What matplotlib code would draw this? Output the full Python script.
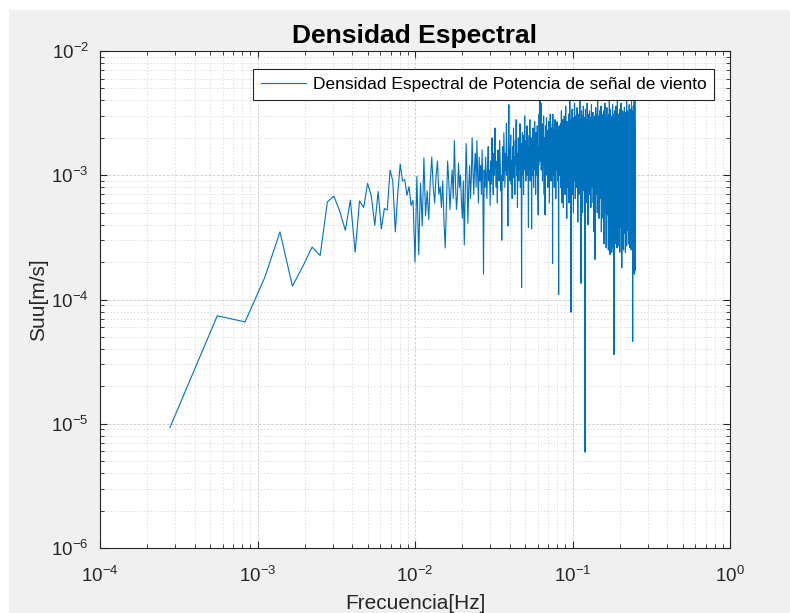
import matplotlib
matplotlib.use("Agg")
import matplotlib.pyplot as plt
import numpy as np
from matplotlib.patches import Rectangle
from matplotlib.ticker import LogLocator, NullFormatter

# wind record: 3600 s, frequency step 1/3600 Hz, up to Nyquist 0.25 Hz
DF = 1.0 / 3600.0

# Suu values in units of 1e-4, k = 1..900
suu_low = [0.093, 0.74, 0.66, 1.5, 3.5, 1.28, 1.86, 2.64, 2.26, 6.1,
           6.8, 5.1, 3.6, 6.3, 2.4, 6.2, 5.5, 8.6, 6.8, 3.95,
           7.4, 3.7, 5.4, 5.25, 11, 9.0, 3.5, 7.2, 12.3, 9.0,
           9.2, 6.9, 8.1, 5.7, 6.3, 2.0, 9.8, 2.3, 8.6, 3.9]

suu_mid = [13.8, 4.7, 7.5, 4.4, 9, 14, 8, 6.0, 10, 13,
           7, 8.1, 5.5, 9, 4.2, 2.6, 6, 13, 9, 5.3,
           8, 11, 6.5, 19, 9, 5.3, 7, 12.5, 8, 10,
           6, 4.5, 9, 2.75, 7, 18, 10, 4.1, 8, 12,
           6.5, 9.5, 20, 11, 7, 11.7, 15, 8, 19, 10,
           6, 14, 9, 12, 7, 16, 9, 1.6, 11, 8,
           14, 10, 6.5, 12, 17, 9, 11, 5.7, 13, 8.5,
           20, 11, 7, 15, 10, 24, 12, 8, 13, 6,
           16, 11, 9, 19, 14, 7.5, 10, 3.0, 12, 17,
           9, 22, 13, 8, 15, 11, 26, 10, 14, 3.9,
           18, 37, 12, 9, 16, 21, 8.5, 13, 6.5, 17,
           11, 24, 9.5, 14, 7, 19, 12, 28, 10, 15,
           5.5, 13, 20, 9, 17, 11, 26, 8, 14, 18,
           1.25, 12, 22, 10, 16, 7, 21, 13, 30, 11]

suu_band1 = [15, 9, 19, 12, 25, 10, 17, 13, 3.8, 14,
             21, 11, 28, 9, 16, 12, 20, 3.7, 13, 18,
             10, 24, 14, 8, 19, 12, 27, 11, 16, 7,
             22, 13, 18, 10, 25, 14, 9, 4.8, 17, 12,
             31, 15, 20, 42, 13, 24, 38, 11, 19, 14,
             26, 9, 17, 22, 12, 30, 15, 7, 20, 13,
             4.8, 18, 25, 11, 16, 29, 21, 10, 15, 23,
             8, 19, 13, 27, 11, 17, 6, 22, 14, 31,
             12, 18, 9, 24, 15, 20, 11, 26, 1.95, 31,
             14, 19, 10, 23, 16, 8, 21, 13, 28, 12,
             17, 6.5, 24, 15, 19, 11, 27, 14, 20, 9,
             23, 16, 12, 1.1, 18, 25, 13, 21, 10, 17]

suu_band2 = [11, 26, 8, 19, 14, 33, 9, 16, 6, 22, 13, 28, 10, 18, 5.5, 24, 15, 12, 30, 9,
             20, 14, 7, 25, 11, 36, 16, 9, 21, 13, 4.5, 18, 27, 10, 15, 23, 8, 19, 12, 31,
             14, 6, 22, 17, 10, 40, 13, 24, 9, 16, 28, 0.79, 19, 12, 26, 8, 15, 34, 11, 20,
             7, 23, 14, 18, 5, 29, 12, 21, 9, 16, 38, 11, 25, 13, 6.5, 19, 30, 10, 17, 22,
             8, 27, 14, 12, 35, 9, 20, 16, 4.2, 24, 13, 18, 31, 10, 22, 7, 15, 26, 12, 19,
             41, 11, 17, 23, 6, 28, 14, 1.35, 21, 12, 33, 16, 9, 25, 13, 19, 5, 30, 15, 22,
             10, 36, 14, 18, 7.5, 26, 12, 20, 16, 29, 11, 0.059, 23, 15, 34, 9, 19, 24, 13, 17,
             6, 28, 14, 21, 11, 38, 16, 8, 25, 13, 19, 4, 31, 12, 22, 15, 27, 9.5, 18, 24,
             11, 33, 14, 7, 20, 16, 29, 10, 23, 13, 5.5, 26, 17, 12, 37, 15, 21, 8, 19, 28,
             13, 24, 10, 18, 32, 14, 6, 22, 16, 27, 11, 20, 3.5, 25, 13, 19, 30, 9, 17, 2.1,
             23, 14, 28, 11, 18, 35, 12, 21, 7, 26, 15, 19, 10, 31, 13, 24, 5, 17, 22, 40,
             12, 20, 16, 8, 27, 14, 23, 11, 30, 17, 4.5, 21, 13, 25, 9, 33, 15, 19, 6.5, 24,
             12, 28, 16, 10, 22, 36, 13, 18, 3.5, 26, 14, 20, 9, 31, 15, 24, 11, 17, 29, 7]

suu_band3 = [21, 13, 4.5, 25, 16, 10, 33, 14, 19, 2.8, 23, 12, 28, 17, 8, 22, 15, 38, 11, 20,
             5, 26, 13, 18, 30, 9, 24, 15, 2.6, 21, 12, 27, 16, 6, 35, 14, 19, 11, 23, 4.8,
             17, 29, 13, 20, 8, 25, 15, 2.5, 22, 12, 31, 16, 5.5, 24, 14, 19, 40, 10, 27, 4.2,
             18, 13, 2.3, 23, 15, 34, 9, 20, 5, 26, 12, 17, 30, 4.4, 21, 14, 25, 11, 2.4, 19,
             28, 13, 16, 5.2, 24, 10, 37, 15, 2.6, 21, 12, 27, 18, 6, 23, 14, 4.6, 31, 11, 0.36,
             20, 15, 26, 2.5, 17, 12, 33, 9, 22, 14, 5, 28, 16, 19, 5.5, 25, 13, 2.8, 21, 36,
             11, 18, 4.3, 24, 15, 29, 8, 20, 13, 2.6, 26, 17, 12, 41, 14, 22, 4.5, 19, 27, 10,
             16, 2.7, 23, 13, 31, 18, 7, 25, 14, 20, 4.8, 28, 12, 17, 22, 9, 34, 15, 2.4, 21,
             13, 26, 18, 5.5, 24, 11, 30, 16, 4.4, 20, 14, 38, 12, 23, 3.8, 17, 27, 10, 19, 1.8,
             15, 25, 12, 21, 2.6, 29, 14, 18, 8, 33, 16, 22, 4.6, 26, 11, 19, 24, 13, 2.5, 31,
             17, 12, 23, 6, 28, 15, 20, 4.9, 35, 13, 18, 25, 10, 22, 3.4, 16, 30, 14, 19, 2.4,
             26, 12, 21, 9, 32, 17, 14, 5.1, 24, 19, 11, 28, 15, 40, 2.7, 20, 13, 23, 7, 27,
             16, 4.4, 22, 14, 33, 18, 11, 25, 3.6, 20, 13, 29, 17, 6, 24, 15, 2.8, 31, 12, 21,
             19, 5.3, 26, 14, 37, 16, 10, 23, 2.6, 28, 13, 20, 17, 5, 25, 12, 34, 15, 4.7, 22,
             14, 27, 18, 3.4, 21, 11, 30, 16, 2.5, 24, 13, 19, 39, 8, 26, 15, 4.5, 22, 12, 29,
             17, 4, 23, 14, 33, 19, 2.4, 0.46, 25, 13, 28, 16, 5.1, 21, 12, 36, 15, 2.6, 24, 18,
             11, 30, 14, 4.9, 22, 17, 41, 1.6, 20, 13, 27, 3.5, 16, 24, 12, 40, 2.8, 19, 1.7, 6]

suu = np.array(suu_low + suu_mid + suu_band1 + suu_band2 + suu_band3) * 1e-4
freq = DF * np.arange(1, len(suu) + 1)

plt.rcParams["font.family"] = ["Liberation Sans", "DejaVu Sans"]

fig = plt.figure(figsize=(7.9, 6.13), dpi=100, facecolor="white")
fig.patches.append(Rectangle((9 / 790, 0), 1, (613 - 10) / 613, transform=fig.transFigure,
                             facecolor="#f0f0f0", edgecolor="none", zorder=-10))

ax = fig.add_axes([100 / 790, 65 / 613, 630 / 790, 497 / 613])
ax.loglog(freq, suu, color="#0072BD", linewidth=0.8,
          label="Densidad Espectral de Potencia de señal de viento")

ax.set_xlim(1e-4, 1e0)
ax.set_ylim(1e-6, 1e-2)
ax.xaxis.set_major_locator(LogLocator(base=10, numticks=10))
ax.yaxis.set_major_locator(LogLocator(base=10, numticks=10))
ax.xaxis.set_minor_locator(LogLocator(base=10, subs=np.arange(2, 10), numticks=20))
ax.yaxis.set_minor_locator(LogLocator(base=10, subs=np.arange(2, 10), numticks=20))
ax.xaxis.set_minor_formatter(NullFormatter())
ax.yaxis.set_minor_formatter(NullFormatter())

ax.grid(True, which="major", color="#c8c8c8", linestyle=(0, (3, 2)), linewidth=0.6)
ax.grid(True, which="minor", color="#dcdcdc", linestyle=(0, (2, 2)), linewidth=0.6)
ax.set_axisbelow(True)

for s in ax.spines.values():
    s.set_color("#262626")
    s.set_linewidth(0.8)
ax.tick_params(which="both", direction="in", top=True, right=True, colors="#262626")
ax.tick_params(which="major", length=5, labelsize=13.5)
ax.tick_params(which="minor", length=3)
ax.tick_params(axis="x", which="major", pad=13)
ax.tick_params(axis="y", which="major", pad=8)

ax.set_title("Densidad Espectral", fontsize=19, fontweight="bold", color="black", pad=6)
ax.set_xlabel("Frecuencia[Hz]", fontsize=15, color="#262626", labelpad=6)
ax.set_ylabel("Suu[m/s]", fontsize=15, color="#262626", labelpad=2)

leg = ax.legend(loc="upper right", bbox_to_anchor=(0.975, 0.964), borderaxespad=0,
                fontsize=12.5, fancybox=False, framealpha=1, edgecolor="#262626",
                handlelength=2.6, borderpad=0.45, handletextpad=0.4)
leg.get_frame().set_linewidth(0.8)

fig.savefig("out.png", dpi=100, facecolor=fig.get_facecolor())
